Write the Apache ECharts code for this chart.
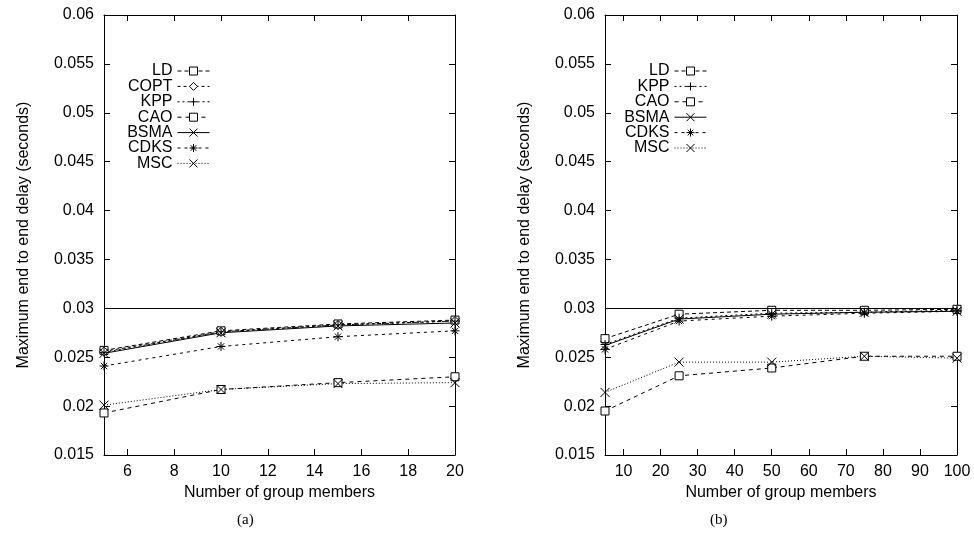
<!DOCTYPE html>
<html>
<head>
<meta charset="utf-8">
<script src="https://cdn.jsdelivr.net/npm/echarts@6/dist/echarts.min.js"></script>
<style>html,body{margin:0;padding:0;background:#fff}#c{width:974px;height:550px}</style>
</head>
<body>
<div id="c"></div>
<script>
// ---- data ----
const xA = [5, 10, 15, 20];
const xB = [5, 25, 50, 75, 100];
const ticksA = [6, 8, 10, 12, 14, 16, 18, 20];
const ticksB = [10, 20, 30, 40, 50, 60, 70, 80, 90, 100];
const boundValue = 0.03;

const A_LD   = [0.0257, 0.0277, 0.0284, 0.0288];
const A_COPT = [0.0256, 0.0276, 0.0283, 0.0287];
const A_KPP  = [0.0255, 0.0276, 0.0283, 0.0287];
const A_CAO  = [0.0193, 0.0217, 0.0224, 0.0230];
const A_BSMA = [0.0254, 0.0275, 0.0282, 0.0285];
const A_CDKS = [0.0241, 0.0261, 0.0271, 0.0277];
const A_MSC  = [0.0201, 0.0217, 0.0223, 0.0224];

const B_LD   = [0.0269, 0.0294, 0.0298, 0.0298, 0.0299];
const B_KPP  = [0.0263, 0.0290, 0.0295, 0.0296, 0.0298];
const B_CAO  = [0.0195, 0.0231, 0.0239, 0.0251, 0.0251];
const B_BSMA = [0.0262, 0.0289, 0.0294, 0.0296, 0.0297];
const B_CDKS = [0.0258, 0.0287, 0.0292, 0.0295, 0.0297];
const B_MSC  = [0.0214, 0.0245, 0.0245, 0.0251, 0.0249];

const legendA = ['LD', 'COPT', 'KPP', 'CAO', 'BSMA', 'CDKS', 'MSC'];
const legendB = ['LD', 'KPP', 'CAO', 'BSMA', 'CDKS', 'MSC'];

// ---- styles ----
const SYM = {
  rect: 'path://M0,0H10V10H0Z',
  diamond: 'path://M5,0L10,5L5,10L0,5Z',
  plus: 'path://M0,5L10,5M5,0L5,10',
  cross: 'path://M0,0L10,10M10,0L0,10',
  star: 'path://M0,5L10,5M5,0L5,10M1.5,1.5L8.5,8.5M8.5,1.5L1.5,8.5'
};
const STYLE = {
  LD:   {symbol: SYM.rect,    size: 8,  fill: '#fff', dash: [4, 3]},
  COPT: {symbol: SYM.diamond, size: 9,  fill: '#fff', dash: [3, 3]},
  KPP:  {symbol: SYM.plus,    size: 9,  fill: '#000', dash: [2, 3]},
  CAO:  {symbol: SYM.rect,    size: 8,  fill: '#fff', dash: [4, 4]},
  BSMA: {symbol: SYM.cross,   size: 9,  fill: '#000', dash: 'solid'},
  CDKS: {symbol: SYM.star,    size: 9,  fill: '#000', dash: [3, 4]},
  MSC:  {symbol: SYM.cross,   size: 9,  fill: '#000', dash: [1, 2]}
};

function mk(name, xs, ys, gi, withBound) {
  const st = STYLE[name];
  const s = {
    name: name, type: 'line', xAxisIndex: gi * 2, yAxisIndex: gi * 2,
    data: xs.map((x, i) => [x, ys[i]]),
    symbol: st.symbol, symbolSize: st.size, showAllSymbol: true,
    lineStyle: {color: '#000', width: 1, type: st.dash},
    itemStyle: {color: st.fill, borderColor: '#000', borderWidth: 1},
    emphasis: {disabled: true},
    z: 3
  };
  if (withBound) {
    s.markLine = {
      silent: true, symbol: ['none', 'none'], label: {show: false},
      lineStyle: {color: '#000', width: 1, type: 'solid'},
      data: [{yAxis: boundValue}]
    };
  }
  return s;
}

const FONT = 'Liberation Sans, Arial, Helvetica, sans-serif';
const axisCommonX = (gi, pos, min, max, ticks, labels, name) => ({
  type: 'value', gridIndex: gi, position: pos, min: min, max: max,
  name: name || '', nameLocation: 'middle', nameGap: 27,
  nameTextStyle: {color: '#000', fontSize: 16, fontFamily: FONT},
  axisLine: {show: true, onZero: false, lineStyle: {color: '#000', width: 1}},
  axisTick: {show: true, inside: true, length: 6, customValues: ticks, lineStyle: {color: '#000'}},
  axisLabel: {show: labels, customValues: ticks, margin: 9, color: '#000', fontSize: 16, fontFamily: FONT},
  splitLine: {show: false}
});
const axisCommonY = (gi, pos, labels, name) => ({
  type: 'value', gridIndex: gi, position: pos, min: 0.015, max: 0.06, interval: 0.005,
  name: name || '', nameLocation: 'middle', nameGap: 72,
  nameTextStyle: {color: '#000', fontSize: 16, fontFamily: FONT},
  axisLine: {show: true, onZero: false, lineStyle: {color: '#000', width: 1}},
  axisTick: {show: true, inside: true, length: 6, lineStyle: {color: '#000'}},
  axisLabel: {show: labels, margin: 10, color: '#000', fontSize: 16, fontFamily: FONT},
  splitLine: {show: false}
});

const yName = 'Maximum end to end delay (seconds)';
const xName = 'Number of group members';

const series = [
  mk('LD', xA, A_LD, 0, false),
  mk('COPT', xA, A_COPT, 0, false),
  mk('KPP', xA, A_KPP, 0, false),
  mk('CAO', xA, A_CAO, 0, false),
  mk('BSMA', xA, A_BSMA, 0, true),
  mk('CDKS', xA, A_CDKS, 0, false),
  mk('MSC', xA, A_MSC, 0, false),
  mk('LD', xB, B_LD, 1, false),
  mk('KPP', xB, B_KPP, 1, false),
  mk('CAO', xB, B_CAO, 1, false),
  mk('BSMA', xB, B_BSMA, 1, true),
  mk('CDKS', xB, B_CDKS, 1, false),
  mk('MSC', xB, B_MSC, 1, false)
];

const legendCommon = {
  orient: 'vertical', align: 'right', top: 58,
  itemWidth: 32, itemHeight: 10, itemGap: -0.6,
  selectedMode: false,
  textStyle: {color: '#000', fontSize: 16, lineHeight: 15, fontFamily: FONT},
  itemStyle: {borderWidth: 1, borderColor: '#000'},
  lineStyle: {width: 1, color: '#000'}
};

const option = {
  animation: false,
  backgroundColor: '#fff',
  grid: [
    {left: 104, top: 15, width: 351, height: 440},
    {left: 605, top: 15, width: 352, height: 440}
  ],
  xAxis: [
    axisCommonX(0, 'bottom', 5, 20, ticksA, true, xName),
    axisCommonX(0, 'top', 5, 20, ticksA, false),
    axisCommonX(1, 'bottom', 5, 100, ticksB, true, xName),
    axisCommonX(1, 'top', 5, 100, ticksB, false)
  ],
  yAxis: [
    axisCommonY(0, 'left', true, yName),
    axisCommonY(0, 'right', false),
    axisCommonY(1, 'left', true, yName),
    axisCommonY(1, 'right', false)
  ],
  legend: [
    Object.assign({}, legendCommon, {data: legendA, right: 974 - 215}),
    Object.assign({}, legendCommon, {data: legendB, right: 974 - 712})
  ],
  graphic: [
    {type: 'text', left: 237, top: 513, style: {text: '(a)', fill: '#000', font: '15px "Liberation Serif", "Times New Roman", serif'}},
    {type: 'text', left: 710, top: 513, style: {text: '(b)', fill: '#000', font: '15px "Liberation Serif", "Times New Roman", serif'}}
  ],
  series: series
};

const chart = echarts.init(document.getElementById('c'), null, {renderer: 'canvas'});
chart.setOption(option);
</script>
</body>
</html>
